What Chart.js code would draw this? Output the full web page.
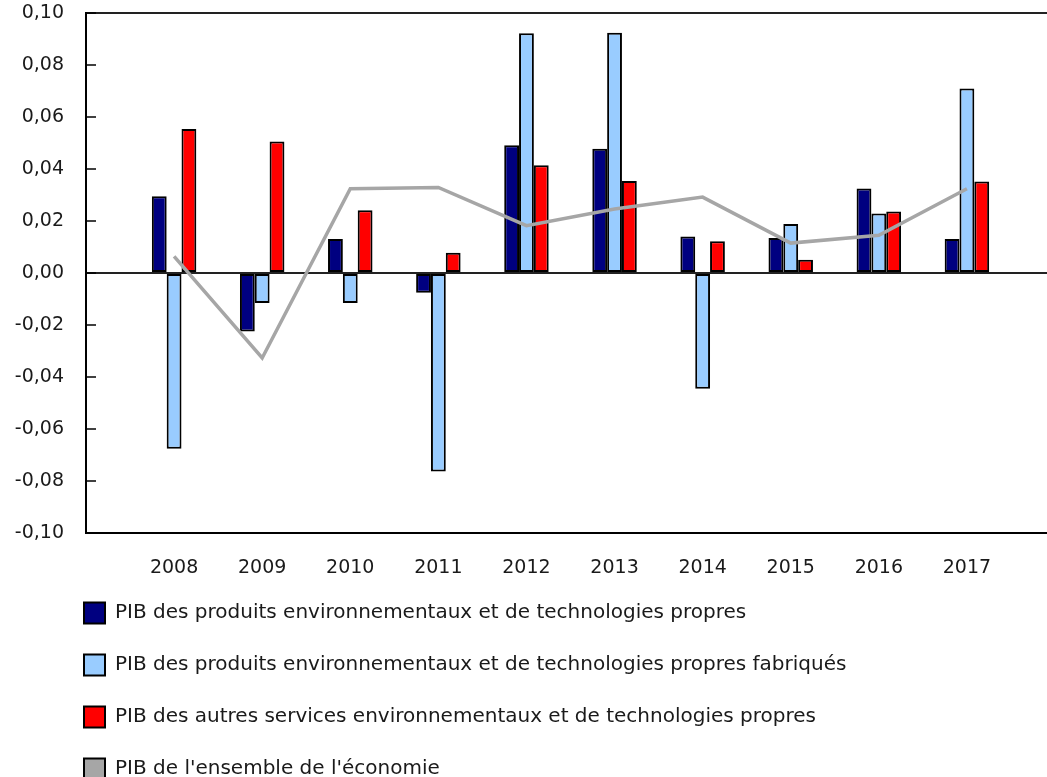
<!DOCTYPE html>
<html>
<head>
<meta charset="utf-8">
<script src="https://cdn.jsdelivr.net/npm/chart.js@4/dist/chart.umd.min.js"></script>
<style>
    html, body { margin: 0; padding: 0; background: #fff; overflow: hidden; }
    canvas { display: block; }
</style>
</head>
<body>
<canvas id="pib-chart" width="1055" height="777"></canvas>
<script>
const years = ['2008', '2009', '2010', '2011', '2012', '2013', '2014', '2015', '2016', '2017'];
const pibEnvTech = [0.0295, -0.0225, 0.0131, -0.0076, 0.0491, 0.0478, 0.0140, 0.0135, 0.0325, 0.0131];
const pibEnvTechFab = [-0.0676, -0.0115, -0.0115, -0.0763, 0.0922, 0.0924, -0.0445, 0.0188, 0.0229, 0.0710];
const pibAutresServices = [0.0554, 0.0506, 0.0241, 0.0078, 0.0414, 0.0354, 0.0122, 0.0051, 0.0237, 0.0352];
const pibEconomie = [0.0064, -0.0327, 0.0324, 0.0329, 0.0182, 0.0246, 0.0292, 0.0115, 0.0145, 0.0324];
const yTicks = [-0.10, -0.08, -0.06, -0.04, -0.02, 0.00, 0.02, 0.04, 0.06, 0.08, 0.10];

const FONT = 'DejaVu Sans';
const TEXT = '#1a1a1a';

// empty slot on each side, like the original axis
const pad = (values) => [null, ...values, null];

function formatTick(value) {
    const v = Math.round(value * 100) / 100;
    return (v === 0 ? 0 : v).toFixed(2).replace('.', ',');
}

// legend sits under the x axis, left-aligned with the plot
const legendPlacement = {
    id: 'legendPlacement',
    afterLayout(chart) {
        chart.legend.left = 53;
        chart.legend.top = 571.5;
    },
};

function createPibChart(canvas) {
    return new Chart(canvas, {
        type: 'bar',
        data: {
            labels: ['', ...years, ''],
            datasets: [
                {
                    label: 'PIB des produits environnementaux et de technologies propres',
                    data: pad(pibEnvTech),
                    backgroundColor: '#000080',
                    borderColor: '#000',
                    borderWidth: 2,
                    borderSkipped: false,
                    order: 1,
                },
                {
                    label: 'PIB des produits environnementaux et de technologies propres fabriqués',
                    data: pad(pibEnvTechFab),
                    backgroundColor: '#99ccff',
                    borderColor: '#000',
                    borderWidth: 2,
                    borderSkipped: false,
                    order: 1,
                },
                {
                    label: 'PIB des autres services environnementaux et de technologies propres',
                    data: pad(pibAutresServices),
                    backgroundColor: '#ff0000',
                    borderColor: '#000',
                    borderWidth: 2,
                    borderSkipped: false,
                    order: 1,
                },
                {
                    type: 'line',
                    label: "PIB de l'ensemble de l'économie",
                    data: pad(pibEconomie),
                    backgroundColor: '#a6a6a6',
                    borderColor: '#a6a6a6',
                    borderWidth: 3.5,
                    pointRadius: 0,
                    tension: 0,
                    fill: false,
                    order: 0,
                },
            ],
        },
        options: {
            responsive: false,
            animation: false,
            layout: {
                padding: { top: 13, left: 0, right: 0, bottom: -20 },
            },
            datasets: {
                bar: {
                    categoryPercentage: 0.505,
                    barPercentage: 1.0,
                },
            },
            plugins: {
                tooltip: { enabled: false },
                legend: {
                    position: 'bottom',
                    align: 'start',
                    labels: {
                        color: TEXT,
                        font: { family: FONT, size: 20 },
                        boxWidth: 21,
                        boxHeight: 21,
                        padding: 31,
                        generateLabels(chart) {
                            return chart.data.datasets.map((ds, i) => ({
                                text: ds.label,
                                fillStyle: ds.backgroundColor,
                                strokeStyle: '#000',
                                lineWidth: 2,
                                fontColor: TEXT,
                                hidden: false,
                                datasetIndex: i,
                            }));
                        },
                    },
                },
            },
            scales: {
                x: {
                    offset: false,
                    grid: {
                        display: true,
                        drawOnChartArea: false,
                        drawTicks: true,
                        tickLength: 24,
                        tickColor: 'rgba(0,0,0,0)',
                    },
                    border: {
                        display: true,
                        color: '#000',
                        width: 2,
                    },
                    ticks: {
                        color: TEXT,
                        font: { family: FONT, size: 19 },
                        padding: 0,
                        autoSkip: false,
                        maxRotation: 0,
                    },
                    afterFit(scale) {
                        scale.height = 46;
                    },
                },
                y: {
                    min: -0.1,
                    max: 0.1,
                    afterBuildTicks(scale) {
                        scale.ticks = yTicks.map((value) => ({ value }));
                    },
                    grid: {
                        drawTicks: true,
                        tickLength: -10,
                        tickColor: '#000',
                        tickWidth: 1.5,
                        lineWidth: 2,
                        color(ctx) {
                            const v = ctx.tick ? ctx.tick.value : null;
                            if (v !== null && (Math.abs(v) < 1e-9 || Math.abs(v - 0.1) < 1e-9)) {
                                return '#222';
                            }
                            return 'rgba(0,0,0,0)';
                        },
                    },
                    border: {
                        display: true,
                        color: '#000',
                        width: 2,
                    },
                    ticks: {
                        color: TEXT,
                        font: { family: FONT, size: 19 },
                        padding: 32,
                        callback: formatTick,
                    },
                    afterFit(scale) {
                        scale.width = 86;
                        scale.paddingTop = 0;
                        scale.paddingBottom = 0;
                    },
                },
            },
        },
        plugins: [legendPlacement],
    });
}

createPibChart(document.getElementById('pib-chart'));
</script>
</body>
</html>
